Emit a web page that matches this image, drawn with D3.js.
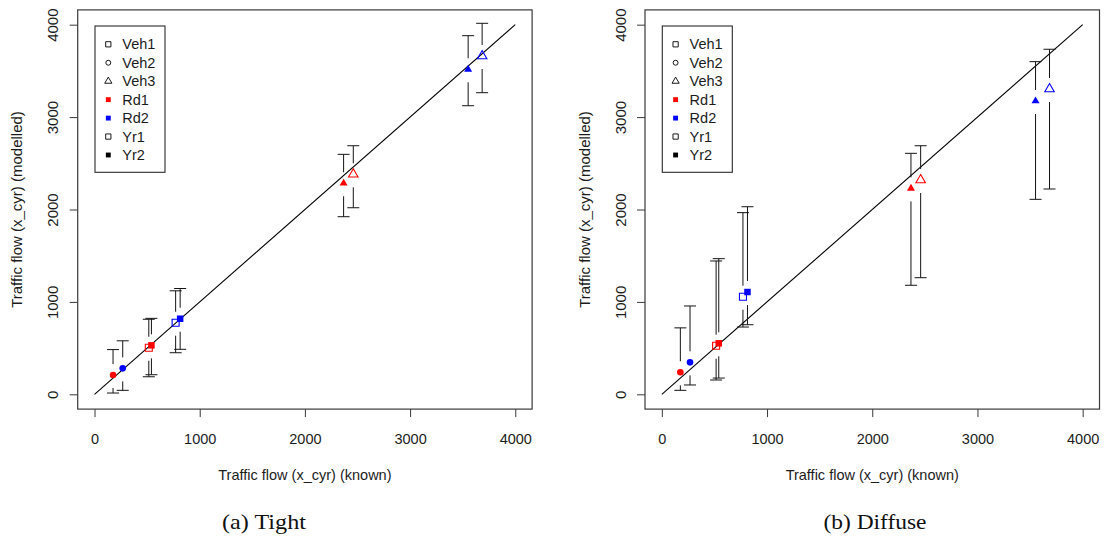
<!DOCTYPE html>
<html>
<head>
<meta charset="utf-8">
<script src="https://cdn.jsdelivr.net/npm/d3@7/dist/d3.min.js"></script>
<style>
  html, body { margin: 0; padding: 0; background: #fff; }
  svg { display: block; }
</style>
</head>
<body>
<svg id="chart" width="1104" height="543"></svg>
<script>
// Known vs modelled annual traffic flow, with interval bars, for two priors.
const knownFlow = [176, 268, 516, 541, 771, 814, 2368, 2460, 3552, 3685];
const vehicle   = [2, 2, 1, 1, 1, 1, 3, 3, 3, 3];   // 1 square, 2 circle, 3 triangle
const road      = [1, 2, 1, 1, 2, 2, 1, 1, 2, 2];   // 1 red, 2 blue
const year      = [2, 2, 1, 2, 1, 2, 2, 1, 2, 1];   // 1 open, 2 filled

const tightModel = [209, 281, 504, 530, 775, 818, 2284, 2381, 3517, 3661];
const tightLower = [14, 43, 190, 212, 450, 487, 1922, 2019, 3123, 3264];
const tightUpper = [484, 579, 812, 822, 1120, 1145, 2597, 2690, 3881, 4015];

const diffuseModel = [238, 346, 526, 552, 1056, 1107, 2229, 2319, 3174, 3304];
const diffuseLower = [43, 101, 155, 176, 728, 753, 1180, 1262, 2110, 2222];
const diffuseUpper = [719, 956, 1443, 1468, 1966, 2030, 2608, 2690, 3600, 3734];

const axisTicks = [0, 1000, 2000, 3000, 4000];
const legendLabels = ["Veh1", "Veh2", "Veh3", "Rd1", "Rd2", "Yr1", "Yr2"];
const panelCaptions = ["(a) Tight", "(b) Diffuse"];

const roadColour = {1: "#ff0000", 2: "#0000ff"};
const sans = "'Liberation Sans', Arial, sans-serif";
const ink = "#1c1c1c";

const svg = d3.select("#chart");

function markerPath(shape, filled, scale) {
  const k = scale || 1;
  if (shape === 1) {
    const side = (filled ? 6.5 : 7) * k;
    return d3.symbol(d3.symbolSquare, side * side)();
  }
  if (shape === 2) {
    const r = 3.3 * k;
    return d3.symbol(d3.symbolCircle, Math.PI * r * r)();
  }
  const s = (filled ? 8 : 9.5) * k;
  return d3.symbol(d3.symbolTriangle, Math.sqrt(3) / 4 * s * s)();
}

function drawPanel(cfg) {
  const g = svg.append("g");
  const x = d3.scaleLinear().domain([-160, 4160]).range([cfg.left, cfg.right]);
  const y = d3.scaleLinear().domain([-160, 4160]).range([409.1, 9.9]);

  // frame
  g.append("rect")
    .attr("x", cfg.left).attr("y", 9.9)
    .attr("width", cfg.right - cfg.left).attr("height", 409.1 - 9.9)
    .attr("fill", "none").attr("stroke", "#3a3a3a").attr("stroke-width", 1.2);

  // axes (R style: ticks outside the frame)
  const xAxis = d3.axisBottom(x).tickValues(axisTicks).tickSize(8).tickPadding(20).tickFormat(d3.format("d"));
  const gx = g.append("g").attr("transform", `translate(0,409.1)`).call(xAxis);
  gx.select(".domain").remove();
  gx.selectAll("line").attr("stroke", "#3a3a3a");
  gx.selectAll("text").attr("font-family", sans).attr("font-size", 14.5).attr("fill", ink)
    .attr("dy", null).attr("y", 30.2).attr("dominant-baseline", "central");

  const yAxis = d3.axisLeft(y).tickValues(axisTicks).tickSize(8).tickFormat(d3.format("d"));
  const gy = g.append("g").attr("transform", `translate(${cfg.left},0)`).call(yAxis);
  gy.select(".domain").remove();
  gy.selectAll("line").attr("stroke", "#3a3a3a");
  gy.selectAll("text")
    .attr("font-family", sans).attr("font-size", 15).attr("fill", ink)
    .attr("x", null).attr("dy", null)
    .attr("text-anchor", "middle").attr("dominant-baseline", "central")
    .attr("transform", "translate(-25,0) rotate(-90)");

  // axis titles
  g.append("text")
    .attr("x", (cfg.left + cfg.right) / 2).attr("y", 475)
    .attr("text-anchor", "middle").attr("dominant-baseline", "central")
    .attr("font-family", sans).attr("font-size", 14.5).attr("fill", ink)
    .text("Traffic flow (x_cyr) (known)");
  g.append("text")
    .attr("transform", `translate(${cfg.left - 61},${(9.9 + 409.1) / 2}) rotate(-90)`)
    .attr("text-anchor", "middle").attr("dominant-baseline", "central")
    .attr("font-family", sans).attr("font-size", 15).attr("fill", ink)
    .text("Traffic flow (x_cyr) (modelled)");

  // reference line y = x
  g.append("line")
    .attr("x1", x(0)).attr("y1", y(0)).attr("x2", x(4000)).attr("y2", y(4000))
    .attr("stroke", "#000").attr("stroke-width", 1.1);

  // interval bars, broken around each marker
  const capHalf = 6, gapAbove = 11, gapBelow = 13;
  const bars = g.append("g").attr("stroke", "#141414").attr("stroke-width", 1).attr("fill", "none");
  knownFlow.forEach((k, i) => {
    const px = x(k), py = y(cfg.model[i]);
    const pu = y(cfg.upper[i]), pl = y(cfg.lower[i]);
    bars.append("path").attr("d",
      `M${px - capHalf},${pu}H${px + capHalf}M${px},${pu}V${py - gapAbove}` +
      `M${px},${py + gapBelow}V${pl}M${px - capHalf},${pl}H${px + capHalf}`);
  });

  // markers
  const pts = g.append("g");
  knownFlow.forEach((k, i) => {
    const filled = year[i] === 2;
    const col = roadColour[road[i]];
    pts.append("path")
      .attr("d", markerPath(vehicle[i], filled))
      .attr("transform", `translate(${x(k)},${y(cfg.model[i])})`)
      .attr("fill", filled ? col : "none")
      .attr("stroke", filled ? "none" : col)
      .attr("stroke-width", 1.1);
  });

  // legend
  const lg = g.append("g").attr("transform", `translate(${cfg.left + 17.3},26)`);
  lg.append("rect").attr("width", 70).attr("height", 146.3)
    .attr("fill", "#fff").attr("stroke", "#2a2a2a").attr("stroke-width", 1.1);
  const legendShape = [1, 2, 3, 1, 1, 1, 1];
  const legendFill = [null, null, null, "#ff0000", "#0000ff", null, "#000"];
  legendLabels.forEach((lab, i) => {
    const cy = 18.3 + i * 18.45;
    lg.append("path")
      .attr("d", markerPath(legendShape[i], !!legendFill[i], 0.75))
      .attr("transform", `translate(13.3,${cy})`)
      .attr("fill", legendFill[i] || "none")
      .attr("stroke", legendFill[i] ? "none" : "#000")
      .attr("stroke-width", 0.9);
    lg.append("text")
      .attr("x", 27.3).attr("y", cy)
      .attr("dominant-baseline", "central")
      .attr("font-family", sans).attr("font-size", 14.5).attr("fill", ink)
      .text(lab);
  });

  // caption
  svg.append("text")
    .attr("x", cfg.captionX).attr("y", 529)
    .attr("text-anchor", "middle")
    .attr("font-family", "'Liberation Serif', 'DejaVu Serif', serif")
    .attr("font-size", 22).attr("fill", "#111")
    .attr("textLength", cfg.captionWidth).attr("lengthAdjust", "spacingAndGlyphs")
    .text(cfg.caption);
}

drawPanel({left: 77.7, right: 532.1, model: tightModel, lower: tightLower, upper: tightUpper,
           caption: panelCaptions[0], captionX: 264, captionWidth: 84});
drawPanel({left: 645, right: 1099.5, model: diffuseModel, lower: diffuseLower, upper: diffuseUpper,
           caption: panelCaptions[1], captionX: 875, captionWidth: 103});
</script>
</body>
</html>
